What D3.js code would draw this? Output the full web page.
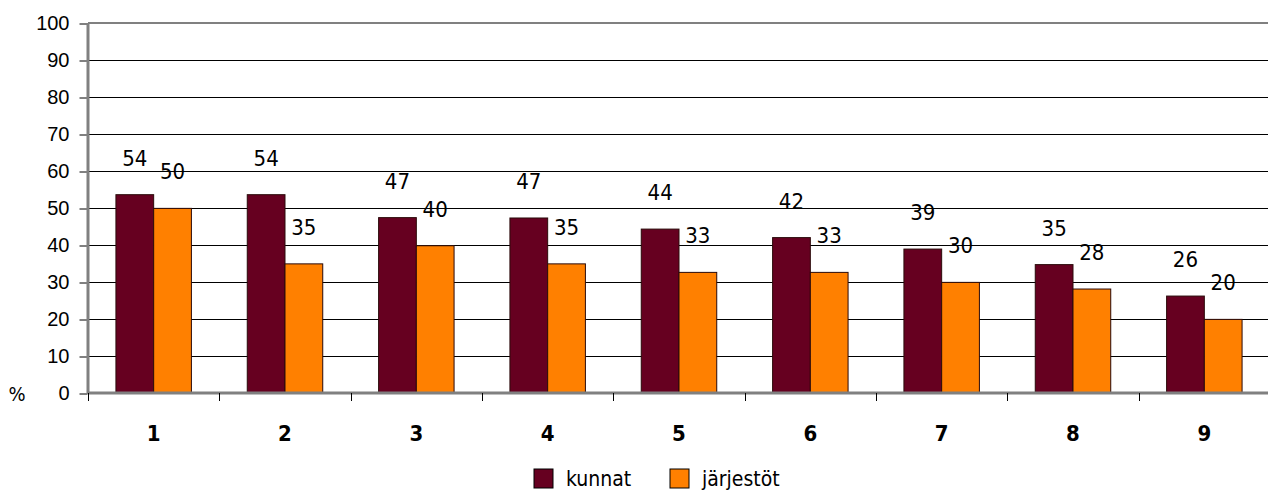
<!DOCTYPE html>
<html>
<head>
<meta charset="utf-8">
<script src="https://cdn.jsdelivr.net/npm/d3@7"></script>
<style>
  body { margin: 0; background: #fff; }
  svg { display: block; font-family: "Liberation Sans Narrow", "Arial Narrow", "DejaVu Sans Condensed", "DejaVu Sans", sans-serif; font-stretch: condensed; }
</style>
</head>
<body>
<svg id="chart" width="1268" height="493"></svg>
<script>
// data
var categories = ["1", "2", "3", "4", "5", "6", "7", "8", "9"];
var seriesNames = ["kunnat", "järjestöt"];
var kunnat = [53.6, 53.6, 47.4, 47.3, 44.3, 42.0, 38.9, 34.7, 26.2];
var jarjestot = [49.9, 34.9, 39.8, 34.9, 32.6, 32.6, 29.9, 28.1, 19.9];
var yTicks = [0, 10, 20, 30, 40, 50, 60, 70, 80, 90, 100];
var colors = ["#660020", "#ff8000"];

(function () {
  var svg = d3.select("#chart");
  var mLeft = 88, mRight = 1270, mTop = 23, mBottom = 393;

  var x0 = d3.scaleBand().domain(categories).range([mLeft, mRight]).padding(0);
  var x1 = d3.scaleBand().domain(seriesNames).range([0, x0.bandwidth()])
    .paddingInner(0).paddingOuter(0.74);
  var y = d3.scaleLinear().domain([0, 100]).range([mBottom, mTop]);

  // gridlines
  svg.append("g").selectAll("line")
    .data(yTicks.filter(function (d) { return d > 0 && d < 100; }))
    .join("line")
    .attr("x1", mLeft).attr("x2", mRight)
    .attr("y1", function (d) { return y(d) + 0.5; })
    .attr("y2", function (d) { return y(d) + 0.5; })
    .attr("stroke", "#000").attr("stroke-width", 1);

  // top border of plot area
  svg.append("line")
    .attr("x1", mLeft).attr("x2", mRight)
    .attr("y1", y(100)).attr("y2", y(100))
    .attr("stroke", "#808080").attr("stroke-width", 2);

  // y axis
  var yAxis = d3.axisLeft(y).tickValues(yTicks).tickSize(8).tickPadding(10);
  var gy = svg.append("g").attr("transform", "translate(" + (mLeft - 0.5) + ",0.5)").call(yAxis);
  gy.select(".domain").remove();
  gy.selectAll(".tick line").attr("stroke", "#000");
  gy.selectAll(".tick text").attr("font-size", 20).attr("fill", "#000")
    .attr("font-family", null);

  // bars
  var rows = categories.map(function (c, i) {
    return {cat: c, vals: [kunnat[i], jarjestot[i]]};
  });
  var groups = svg.append("g").selectAll("g")
    .data(rows).join("g")
    .attr("transform", function (d) { return "translate(" + x0(d.cat) + ",0)"; });

  groups.selectAll("rect")
    .data(function (d) { return d.vals.map(function (v, j) { return {name: seriesNames[j], v: v, j: j}; }); })
    .join("rect")
    .attr("x", function (d) { return x1(d.name); })
    .attr("y", function (d) { return y(d.v); })
    .attr("width", x1.bandwidth())
    .attr("height", function (d) { return y(0) - y(d.v); })
    .attr("fill", function (d) { return colors[d.j]; })
    .attr("stroke", "#2a0a0a").attr("stroke-width", 1);

  // value labels
  groups.selectAll("text")
    .data(function (d) { return d.vals.map(function (v, j) { return {name: seriesNames[j], v: v}; }); })
    .join("text")
    .attr("x", function (d) { return x1(d.name) + x1.bandwidth() / 2; })
    .attr("y", function (d) { return y(d.v) - 29; })
    .attr("text-anchor", "middle")
    .attr("font-size", 22)
    .attr("fill", "#000")
    .text(function (d) { return d3.format(".0f")(d.v); });

  // axis lines (gray, thick)
  svg.append("line")
    .attr("x1", mLeft).attr("x2", mLeft).attr("y1", mTop).attr("y2", mBottom + 1)
    .attr("stroke", "#808080").attr("stroke-width", 3);
  svg.append("line")
    .attr("x1", mLeft).attr("x2", mRight).attr("y1", mBottom).attr("y2", mBottom)
    .attr("stroke", "#808080").attr("stroke-width", 3);

  // x axis ticks + labels
  svg.append("g").selectAll("line").data(categories).join("line")
    .attr("x1", function (d) { return Math.round(x0(d)) + 0.5; })
    .attr("x2", function (d) { return Math.round(x0(d)) + 0.5; })
    .attr("y1", mBottom).attr("y2", mBottom + 8)
    .attr("stroke", "#000");
  svg.append("g").selectAll("text").data(categories).join("text")
    .attr("x", function (d) { return x0(d) + x0.bandwidth() / 2; })
    .attr("y", 441)
    .attr("text-anchor", "middle")
    .attr("font-size", 22).attr("font-weight", "bold")
    .text(function (d) { return d; });

  // % label
  svg.append("text").attr("x", 17).attr("y", 401).attr("text-anchor", "middle")
    .attr("font-size", 20).text("%");

  // legend
  var legendX = [534, 670];
  var legend = svg.append("g").selectAll("g").data(seriesNames).join("g")
    .attr("transform", function (d, i) { return "translate(" + legendX[i] + ",469)"; });
  legend.append("rect").attr("width", 19).attr("height", 19)
    .attr("fill", function (d, i) { return colors[i]; })
    .attr("stroke", "#000").attr("stroke-width", 1);
  legend.append("text").attr("x", 32).attr("y", 17)
    .attr("font-size", 21).text(function (d) { return d; });
})();
</script>
</body>
</html>
